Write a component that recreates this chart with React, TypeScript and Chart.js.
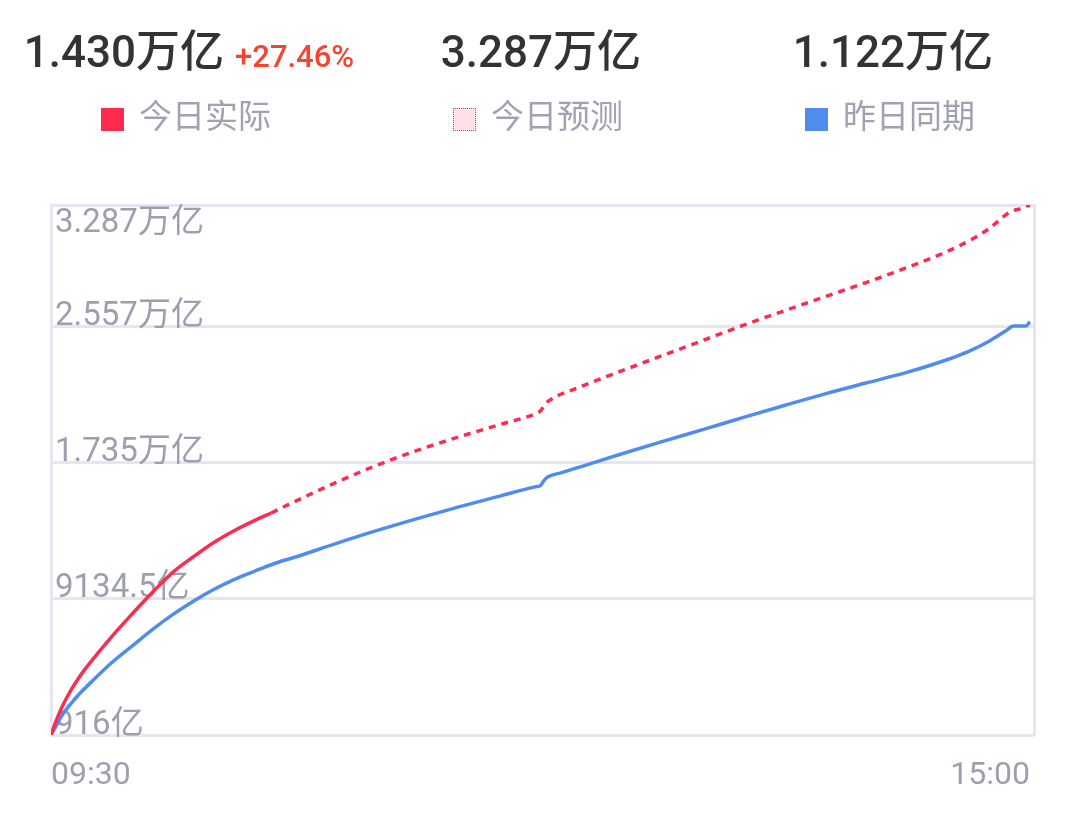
import React, { useEffect, useRef } from 'react';
import { Chart, registerables } from 'chart.js';

Chart.register(...registerables);

const FONT = "Roboto, 'Noto Sans CJK SC', 'Noto Sans', sans-serif";

// Header texts
const headerValues = ['1.430万亿', '3.287万亿', '1.122万亿'];
const changeText = '+27.46%';
const legendLabels = ['今日实际', '今日预测', '昨日同期'];

// Axis ticks (values in 万亿)
const yTickValues = [0.0916, 0.91345, 1.735, 2.557, 3.287];
const yTickLabels = ['916亿', '9134.5亿', '1.735万亿', '2.557万亿', '3.287万亿'];
const xTickValues = [0, 240];
const xTickLabels = ['09:30', '15:00'];

// Series: minute index since 09:30 (trading minutes, 0..240) and cumulative turnover in 万亿
const actualMinutes = [0, 1, 2, 3, 5, 7, 10, 15, 20, 25, 30, 35, 40, 45, 50, 54];
const actualValues = [0.0916, 0.16, 0.222, 0.275, 0.366, 0.443, 0.54, 0.688, 0.824, 0.955, 1.075, 1.168, 1.254, 1.325, 1.386, 1.43];

const forecastMinutes = [54, 60, 70, 80, 90, 100, 110, 119, 120, 121, 122, 130, 140, 150, 160, 170, 180, 190, 200, 210, 220, 225, 230, 235, 238, 240];
const forecastValues = [1.43, 1.502, 1.615, 1.719, 1.809, 1.889, 1.963, 2.031, 2.045, 2.081, 2.105, 2.193, 2.288, 2.38, 2.472, 2.564, 2.651, 2.736, 2.821, 2.911, 3.01, 3.07, 3.145, 3.243, 3.268, 3.287];

const yesterdayMinutes = [0, 1, 2, 3, 5, 7, 10, 15, 20, 25, 30, 35, 40, 45, 50, 55, 60, 70, 80, 90, 100, 110, 119, 120, 121, 122, 125, 130, 140, 150, 160, 170, 180, 190, 200, 210, 220, 225, 230, 234, 236, 239, 240];
const yesterdayValues = [0.0916, 0.135, 0.18, 0.221, 0.284, 0.34, 0.414, 0.53, 0.63, 0.73, 0.82, 0.9, 0.97, 1.03, 1.08, 1.127, 1.165, 1.247, 1.325, 1.398, 1.467, 1.532, 1.589, 1.595, 1.63, 1.65, 1.672, 1.71, 1.787, 1.862, 1.934, 2.008, 2.08, 2.15, 2.215, 2.279, 2.357, 2.405, 2.466, 2.527, 2.557, 2.557, 2.583];

const RED = '#fb2c50';
const BLUE = '#508cee';
const GRID = '#e6e6f2';
const AXIS_TEXT = '#9c9fae';

const toPoints = (xs: number[], ys: number[]) => xs.map((x, i) => ({ x, y: ys[i] }));

export default function App() {
  const canvasRef = useRef<HTMLCanvasElement | null>(null);

  useEffect(() => {
    if (!canvasRef.current) return;
    const chart = new Chart(canvasRef.current, {
      type: 'line',
      data: {
        datasets: [
          {
            label: legendLabels[0],
            data: toPoints(actualMinutes, actualValues),
            borderColor: RED,
            borderWidth: 3.5,
            pointRadius: 0,
            cubicInterpolationMode: 'monotone',
            fill: false,
          },
          {
            label: legendLabels[1],
            data: toPoints(forecastMinutes, forecastValues),
            borderColor: RED,
            borderWidth: 3.5,
            borderDash: [7, 6],
            pointRadius: 0,
            cubicInterpolationMode: 'monotone',
            fill: false,
          },
          {
            label: legendLabels[2],
            data: toPoints(yesterdayMinutes, yesterdayValues),
            borderColor: BLUE,
            borderWidth: 3.5,
            pointRadius: 0,
            cubicInterpolationMode: 'monotone',
            fill: false,
          },
        ],
      },
      options: {
        animation: false,
        responsive: true,
        maintainAspectRatio: false,
        layout: { padding: { left: 51, right: 46, top: 205, bottom: 0 } },
        plugins: { legend: { display: false }, tooltip: { enabled: false } },
        scales: {
          x: {
            type: 'linear',
            min: 0,
            max: 241,
            grid: { display: false, drawTicks: false },
            border: { display: false },
            afterBuildTicks: (scale: any) => {
              scale.ticks = xTickValues.map((v) => ({ value: v }));
            },
            afterFit: (scale: any) => {
              scale.height = 80;
              scale.paddingLeft = 0;
              scale.paddingRight = 0;
            },
            ticks: {
              autoSkip: false,
              maxRotation: 0,
              align: 'inner',
              padding: 22,
              color: AXIS_TEXT,
              font: { size: 32, family: FONT },
              callback: (value: any) => {
                const i = xTickValues.indexOf(Number(value));
                return i >= 0 ? xTickLabels[i] : '';
              },
            },
          },
          y: {
            type: 'linear',
            min: yTickValues[0],
            max: yTickValues[yTickValues.length - 1],
            grid: { color: GRID, lineWidth: 3, drawTicks: false },
            border: { display: true, color: GRID, width: 3 },
            afterBuildTicks: (scale: any) => {
              scale.ticks = yTickValues.map((v) => ({ value: v }));
            },
            afterFit: (scale: any) => {
              scale.width = 0;
              scale.paddingTop = 0;
              scale.paddingBottom = 0;
            },
            ticks: {
              mirror: true,
              padding: 4,
              color: AXIS_TEXT,
              font: { size: 33, family: FONT, lineHeight: 0.58 },
              callback: (_value: any, index: number) => {
                const label = yTickLabels[index];
                if (index === yTickLabels.length - 1) return ['', '', label];
                return [label, ''];
              },
            },
          },
          y2: {
            type: 'linear',
            position: 'right',
            display: true,
            grid: { display: false, drawTicks: false },
            border: { display: true, color: GRID, width: 3 },
            ticks: { display: false },
            afterFit: (scale: any) => {
              scale.width = 0;
              scale.paddingTop = 0;
              scale.paddingBottom = 0;
            },
          },
        },
      } as any,
    });
    return () => chart.destroy();
  }, []);

  const squareBase: React.CSSProperties = {
    width: 23,
    height: 23,
    boxSizing: 'border-box',
    marginRight: 15,
    flex: '0 0 auto',
  };
  const squares: React.CSSProperties[] = [
    { ...squareBase, background: '#ff2b4e' },
    { ...squareBase, background: '#fde1e6', border: '1px dotted #f0304f' },
    { ...squareBase, background: '#4f8cee' },
  ];

  return (
    <div
      style={{
        position: 'absolute',
        left: 0,
        top: 0,
        width: 1080,
        height: 815,
        background: '#ffffff',
        fontFamily: FONT,
        overflow: 'hidden',
      }}
    >
      <div style={{ position: 'absolute', left: 0, top: 0, width: 1080, height: 815 }}>
        <canvas ref={canvasRef} />
      </div>
      <div
        style={{
          position: 'absolute',
          left: 13,
          top: 27,
          width: 1056,
          display: 'flex',
        }}
      >
        {headerValues.map((v, i) => (
          <div
            key={i}
            style={{
              flex: 1,
              textAlign: 'center',
              fontSize: 44,
              lineHeight: '50px',
              fontWeight: 500,
              color: '#333333',
              whiteSpace: 'nowrap',
            }}
          >
            {v}
            {i === 0 && (
              <span style={{ fontSize: 31, lineHeight: 1, color: '#f5442f', marginLeft: 11, fontWeight: 500 }}>
                {changeText}
              </span>
            )}
          </div>
        ))}
      </div>
      <div
        style={{
          position: 'absolute',
          left: 10,
          top: 93,
          width: 1056,
          height: 48,
          display: 'flex',
        }}
      >
        {legendLabels.map((l, i) => (
          <div
            key={i}
            style={{
              flex: 1,
              display: 'flex',
              alignItems: 'center',
              justifyContent: 'center',
            }}
          >
            <div style={{ ...squares[i], marginTop: 5 }} />
            <span style={{ fontSize: 33, lineHeight: '48px', color: '#9fa2b2', whiteSpace: 'nowrap' }}>{l}</span>
          </div>
        ))}
      </div>
    </div>
  );
}
